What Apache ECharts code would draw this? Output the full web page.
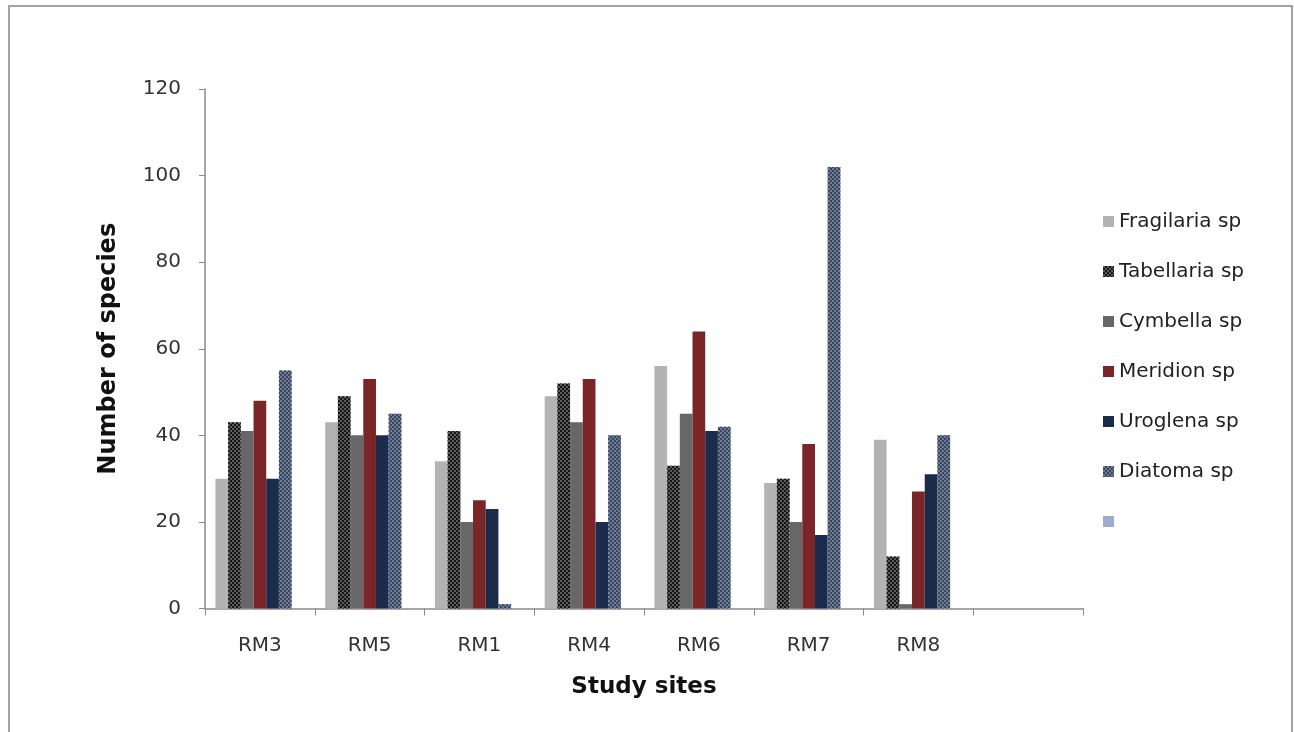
<!DOCTYPE html>
<html>
<head>
<meta charset="utf-8">
<title>Number of species by study site</title>
<script src="https://cdn.jsdelivr.net/npm/echarts@6/dist/echarts.min.js"></script>
<style>
  html, body { margin: 0; padding: 0; background: #ffffff; }
  #chart { width: 1294px; height: 732px; }
</style>
</head>
<body>
<div id="chart"></div>
<script>
// Study sites along the x axis (the last slot is left blank)
const sites = ['RM3', 'RM5', 'RM1', 'RM4', 'RM6', 'RM7', 'RM8', ''];

// Species counts per site
const fragilaria = [30, 43, 34, 49, 56, 29, 39, null];
const tabellaria = [43, 49, 41, 52, 33, 30, 12, null];
const cymbella   = [41, 40, 20, 43, 45, 20, 1, null];
const meridion   = [48, 53, 25, 53, 64, 38, 27, null];
const uroglena   = [30, 40, 23, 20, 41, 17, 31, null];
const diatoma    = [55, 45, 1, 40, 42, 102, 40, null];
const unnamed    = [null, null, null, null, null, null, null, null];

const yTicks = { min: 0, max: 120, interval: 20 };

const FONT = '"DejaVu Sans", "Open Sans", sans-serif';

// checkerboard texture used on some of the bars
function checker(color) {
  return {
    symbol: 'rect',
    symbolSize: 1,
    color: color,
    dashArrayX: [[2, 2], [0, 2, 2, 0]],
    dashArrayY: [2, 0],
    rotation: 0
  };
}

const seriesDefs = [
  { name: 'Fragilaria sp', data: fragilaria, color: '#b3b3b3', decal: null },
  { name: 'Tabellaria sp', data: tabellaria, color: '#5a5a5a', decal: checker('rgba(10,10,10,0.85)') },
  { name: 'Cymbella sp',   data: cymbella,   color: '#676767', decal: null },
  { name: 'Meridion sp',   data: meridion,   color: '#7a2628', decal: null },
  { name: 'Uroglena sp',   data: uroglena,   color: '#1b2b4c', decal: null },
  { name: 'Diatoma sp',    data: diatoma,    color: '#6c7c96', decal: checker('rgba(40,52,72,0.75)') },
  { name: ' ',             data: unnamed,    color: '#9eabd0', decal: null }
];

const chart = echarts.init(document.getElementById('chart'), null, { renderer: 'canvas' });

chart.setOption({
  backgroundColor: '#ffffff',
  animation: false,
  graphic: [{
    type: 'rect',
    shape: { x: 9, y: 6, width: 1283, height: 740 },
    style: { fill: 'none', stroke: '#a3a3a3', lineWidth: 2 },
    silent: true,
    z: -1
  }],
  grid: { left: 205, right: 211, top: 89, bottom: 123.5, containLabel: false },
  legend: {
    orient: 'vertical',
    left: 1098,
    top: 206,
    itemWidth: 11,
    itemHeight: 11,
    itemGap: 29,
    icon: 'rect',
    textStyle: { fontFamily: FONT, fontSize: 20, color: '#222222', lineHeight: 21, padding: [0, 0, 0, 0] },
    data: seriesDefs.map(s => s.name)
  },
  xAxis: {
    type: 'category',
    data: sites,
    name: 'Study sites',
    nameLocation: 'middle',
    nameGap: 67,
    nameTextStyle: { fontFamily: FONT, fontSize: 23, fontWeight: 'bold', color: '#111111' },
    axisLine: { lineStyle: { color: '#8a8a8a', width: 1.5 } },
    axisTick: { show: true, alignWithLabel: false, length: 7, lineStyle: { color: '#8a8a8a' } },
    axisLabel: { fontFamily: FONT, fontSize: 20, color: '#333333', margin: 27 },
    splitLine: { show: false }
  },
  yAxis: {
    type: 'value',
    min: yTicks.min,
    max: yTicks.max,
    interval: yTicks.interval,
    name: 'Number of species',
    nameLocation: 'middle',
    nameGap: 84,
    nameRotate: 90,
    nameTextStyle: { fontFamily: FONT, fontSize: 24, fontWeight: 'bold', color: '#111111' },
    axisLine: { show: true, lineStyle: { color: '#8a8a8a', width: 1.5 } },
    axisTick: { show: true, length: 6, lineStyle: { color: '#8a8a8a' } },
    axisLabel: { fontFamily: FONT, fontSize: 20, color: '#333333', margin: 24 },
    splitLine: { show: false }
  },
  series: seriesDefs.map(s => ({
    type: 'bar',
    name: s.name,
    data: s.data,
    barGap: 0,
    barCategoryGap: '19%',
    itemStyle: s.decal ? { color: s.color, decal: s.decal } : { color: s.color },
    emphasis: { disabled: true }
  }))
});
</script>
</body>
</html>
